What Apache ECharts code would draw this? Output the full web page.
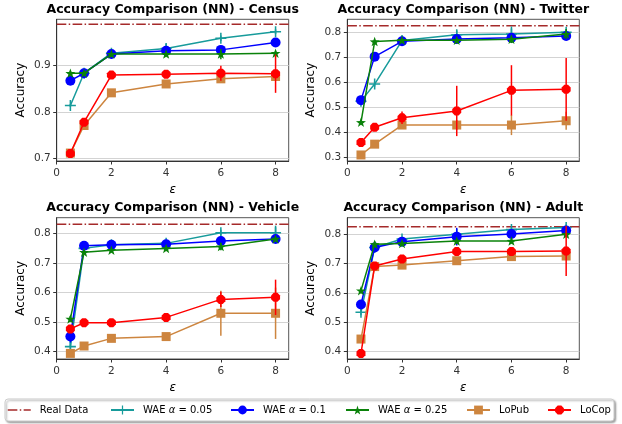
<!DOCTYPE html>
<html>
<head>
<meta charset="utf-8">
<script src="https://cdn.jsdelivr.net/npm/echarts@6/dist/echarts.min.js"></script>
<style>
  html, body { margin: 0; padding: 0; background: #ffffff; }
  #chart { width: 622px; height: 424px; }
</style>
</head>
<body>
<div id="chart"></div>
<script>
// Privacy budget values on the x axis
const eps = [0.5, 1, 2, 4, 6, 8];
const datasets = ['Census', 'Twitter', 'Vehicle', 'Adult'];

// Accuracy of a model trained on the real data (one per dataset)
const realAcc = [0.988, 0.825, 0.832, 0.826];

// Mean accuracy per method, one row per dataset (Census, Twitter, Vehicle, Adult)
const wae005 = [
  [0.814, 0.883, 0.926, 0.936, 0.958, 0.972],
  [0.525, 0.593, 0.766, 0.789, 0.792, 0.799],
  [0.417, 0.750, 0.762, 0.767, 0.803, 0.803],
  [0.534, 0.755, 0.784, 0.800, 0.816, 0.823]
];
const wae01 = [
  [0.867, 0.883, 0.924, 0.931, 0.933, 0.949],
  [0.529, 0.702, 0.763, 0.772, 0.777, 0.784],
  [0.451, 0.759, 0.762, 0.764, 0.775, 0.782],
  [0.561, 0.755, 0.775, 0.792, 0.801, 0.813]
];
const wae025 = [
  [0.883, 0.883, 0.924, 0.924, 0.924, 0.926],
  [0.441, 0.762, 0.767, 0.767, 0.771, 0.792],
  [0.511, 0.737, 0.744, 0.750, 0.756, 0.782],
  [0.608, 0.766, 0.769, 0.777, 0.777, 0.800]
];
const lopub = [
  [0.712, 0.771, 0.841, 0.860, 0.871, 0.876],
  [0.311, 0.354, 0.430, 0.430, 0.430, 0.447],
  [0.394, 0.419, 0.445, 0.451, 0.530, 0.530],
  [0.443, 0.690, 0.695, 0.710, 0.724, 0.726]
];
const locop = [
  [0.711, 0.778, 0.879, 0.881, 0.883, 0.882],
  [0.361, 0.421, 0.459, 0.486, 0.568, 0.572],
  [0.477, 0.498, 0.498, 0.516, 0.577, 0.584],
  [0.394, 0.692, 0.716, 0.741, 0.741, 0.743]
];

// Standard deviations (error bars), same layout as the means
const wae005Err = [
  [0.003, 0.004, 0.005, 0.010, 0.006, 0.005],
  [0.010, 0.010, 0.010, 0.017, 0.030, 0.012],
  [0.015, 0.008, 0.006, 0.006, 0.010, 0.024],
  [0.010, 0.008, 0.008, 0.010, 0.008, 0.010]
];
const wae01Err = [
  [0.004, 0.004, 0.004, 0.006, 0.006, 0.004],
  [0.010, 0.010, 0.006, 0.008, 0.008, 0.010],
  [0.020, 0.006, 0.004, 0.006, 0.006, 0.006],
  [0.010, 0.008, 0.008, 0.030, 0.008, 0.006]
];
const wae025Err = [
  [0.004, 0.003, 0.003, 0.004, 0.011, 0.004],
  [0.008, 0.006, 0.006, 0.008, 0.015, 0.020],
  [0.010, 0.006, 0.006, 0.006, 0.012, 0.006],
  [0.008, 0.010, 0.006, 0.006, 0.006, 0.008]
];
const lopubErr = [
  [0.003, 0.006, 0.004, 0.004, 0.006, 0.006],
  [0.008, 0.008, 0.008, 0.020, 0.040, 0.036],
  [0.006, 0.006, 0.006, 0.006, 0.076, 0.087],
  [0.006, 0.006, 0.006, 0.006, 0.006, 0.006]
];
const locopErr = [
  [0.004, 0.005, 0.003, 0.003, 0.016, 0.041],
  [0.008, 0.015, 0.025, 0.100, 0.100, 0.125],
  [0.006, 0.006, 0.006, 0.006, 0.026, 0.060],
  [0.005, 0.006, 0.006, 0.006, 0.006, 0.085]
];

// Tick labels
const xTicks = [0, 2, 4, 6, 8];
const yTicks = [
  [0.7, 0.8, 0.9],
  [0.3, 0.4, 0.5, 0.6, 0.7, 0.8],
  [0.4, 0.5, 0.6, 0.7, 0.8],
  [0.4, 0.5, 0.6, 0.7, 0.8]
];

// ---- layout ----
const FONT = 'DejaVu Sans';
const grids = [
  { left: 56.7, top: 19.3, width: 232, height: 141.7 },
  { left: 347.3, top: 19.3, width: 232, height: 141.7 },
  { left: 56.7, top: 217.7, width: 232, height: 141.3 },
  { left: 347.3, top: 217.7, width: 232, height: 141.3 }
];
const yRange = [[0.695, 0.9985], [0.287, 0.8505], [0.375, 0.854], [0.375, 0.8566]];
const xRange = [0, 8.48];

const SYM_PLUS = 'path://M4.3,0H5.7V4.3H10V5.7H5.7V10H4.3V5.7H0V4.3H4.3Z';
const SYM_STAR = 'path://M5,0L6.18,3.38L9.76,3.45L6.9,5.62L7.94,9.05L5,7L2.06,9.05L3.1,5.62L0.24,3.45L3.82,3.38Z';
const SYM_OCT = 'path://M2.93,0H7.07L10,2.93V7.07L7.07,10H2.93L0,7.07V2.93Z';

const methods = [
  { name: 'WAE α = 0.05', mean: wae005, err: wae005Err, color: '#179b9b', symbol: SYM_PLUS, size: 11 },
  { name: 'WAE α = 0.1', mean: wae01, err: wae01Err, color: '#0000ff', symbol: 'circle', size: 10 },
  { name: 'WAE α = 0.25', mean: wae025, err: wae025Err, color: '#0a820a', symbol: SYM_STAR, size: 10 },
  { name: 'LoPub', mean: lopub, err: lopubErr, color: '#cd853f', symbol: 'rect', size: 9 },
  { name: 'LoCop', mean: locop, err: locopErr, color: '#ff0000', symbol: SYM_OCT, size: 9 }
];
const REAL_COLOR = '#a52a2a';
const REAL_DASH = [9.6, 2.4, 1.5, 2.4];

const xAxes = [], yAxes = [], series = [], graphics = [];

datasets.forEach((ds, i) => {
  const g = grids[i];
  xAxes.push({
    type: 'value', gridIndex: i, min: xRange[0], max: xRange[1],
    name: 'ε', nameLocation: 'middle', nameGap: 23,
    nameTextStyle: { fontFamily: FONT, fontSize: 12, fontStyle: 'italic', color: '#000' },
    axisLine: { show: true, lineStyle: { color: '#333', width: 1 } },
    axisTick: { show: true, length: 3.5, lineStyle: { color: '#333' }, customValues: xTicks },
    axisLabel: { fontFamily: FONT, fontSize: 10.5, color: '#333', margin: 7, customValues: xTicks },
    splitLine: { show: false }
  });
  yAxes.push({
    type: 'value', gridIndex: i, min: yRange[i][0], max: yRange[i][1],
    name: 'Accuracy', nameLocation: 'middle', nameGap: 30,
    nameTextStyle: { fontFamily: FONT, fontSize: 12, color: '#000' },
    axisLine: { show: true, lineStyle: { color: '#333', width: 1 } },
    axisTick: { show: true, length: 3.5, lineStyle: { color: '#333' }, customValues: yTicks[i] },
    axisLabel: { fontFamily: FONT, fontSize: 10.5, color: '#333', margin: 6,
      customValues: yTicks[i], formatter: v => v.toFixed(1) },
    splitLine: { show: true, lineStyle: { color: '#d3d3d3', width: 1 } }
  });

  // subplot title
  graphics.push({
    type: 'text', x: g.left + g.width / 2, y: g.top - 9.5, z: 5,
    style: {
      text: 'Accuracy Comparison (NN) - ' + ds,
      x: 0, y: 0, align: 'center', verticalAlign: 'middle',
      textAlign: 'center', textVerticalAlign: 'middle',
      font: 'bold 12.5px "DejaVu Sans"', fill: '#000'
    }
  });

  // real-data reference line across the whole x range
  series.push({
    name: 'Real Data', type: 'line', xAxisIndex: i, yAxisIndex: i,
    data: [[xRange[0], realAcc[i]], [xRange[1], realAcc[i]]],
    showSymbol: false, symbol: 'none', silent: true, z: 2,
    lineStyle: { color: REAL_COLOR, width: 1.5, type: REAL_DASH },
    itemStyle: { color: REAL_COLOR }
  });

  methods.forEach((m, k) => {
    const rows = eps.map((x, j) => [x, m.mean[i][j], m.err[i][j]]);
    // error bars
    series.push({
      name: m.name + ' sd', type: 'custom', xAxisIndex: i, yAxisIndex: i,
      coordinateSystem: 'cartesian2d', silent: true, z: 3 + k * 2,
      encode: { x: 0, y: 1 },
      data: rows,
      renderItem: (params, api) => {
        const x = api.value(0), y = api.value(1), e = api.value(2);
        const p1 = api.coord([x, y - e]);
        const p2 = api.coord([x, y + e]);
        return {
          type: 'line',
          shape: { x1: p1[0], y1: p1[1], x2: p2[0], y2: p2[1] },
          style: { stroke: m.color, lineWidth: 1.5 }
        };
      }
    });
    // mean accuracy line with markers
    series.push({
      name: m.name, type: 'line', xAxisIndex: i, yAxisIndex: i,
      data: rows.map(r => [r[0], r[1]]),
      symbol: m.symbol, symbolSize: m.size, symbolKeepAspect: true,
      showSymbol: true, silent: true, z: 4 + k * 2,
      lineStyle: { color: m.color, width: 1.5 },
      itemStyle: { color: m.color, borderWidth: 0 }
    });
  });
});

// legend frame
graphics.push({
  type: 'rect', z: 1,
  shape: { x: 5, y: 399, width: 609, height: 22, r: 3 },
  style: {
    fill: '#ffffff', stroke: '#cccccc', lineWidth: 1,
    shadowBlur: 2, shadowOffsetX: 1.5, shadowOffsetY: 1.5, shadowColor: 'rgba(0,0,0,0.35)'
  }
});

const legendNames = ['Real Data', 'WAE α = 0.05', 'WAE α = 0.1', 'WAE α = 0.25', 'LoPub', 'LoCop'];
const legendX = [7, 110, 230, 345, 466, 547];
const legends = legendNames.map((n, i) => ({
  data: [i === 0
    ? { name: n, itemStyle: { opacity: 0 },
        lineStyle: { color: REAL_COLOR, width: 1.5, type: REAL_DASH } }
    : n],
  left: legendX[i], top: 405, padding: 0, z: 10,
  itemWidth: 23, itemHeight: 11, selectedMode: false,
  formatter: name => name.replace('α', '{i|α}'),
  textStyle: {
    fontFamily: FONT, fontSize: 10, color: '#000', padding: [0, 0, 0, 4],
    rich: { i: { fontFamily: FONT, fontSize: 10, fontStyle: 'italic', color: '#000' } }
  }
}));

const chart = echarts.init(document.getElementById('chart'), null, { renderer: 'canvas' });
chart.setOption({
  animation: false,
  backgroundColor: '#ffffff',
  grid: grids.map(g => Object.assign({ show: true, borderColor: '#555', borderWidth: 1, backgroundColor: 'transparent' }, g)),
  xAxis: xAxes,
  yAxis: yAxes,
  legend: legends,
  graphic: graphics,
  series: series
});
</script>
</body>
</html>
